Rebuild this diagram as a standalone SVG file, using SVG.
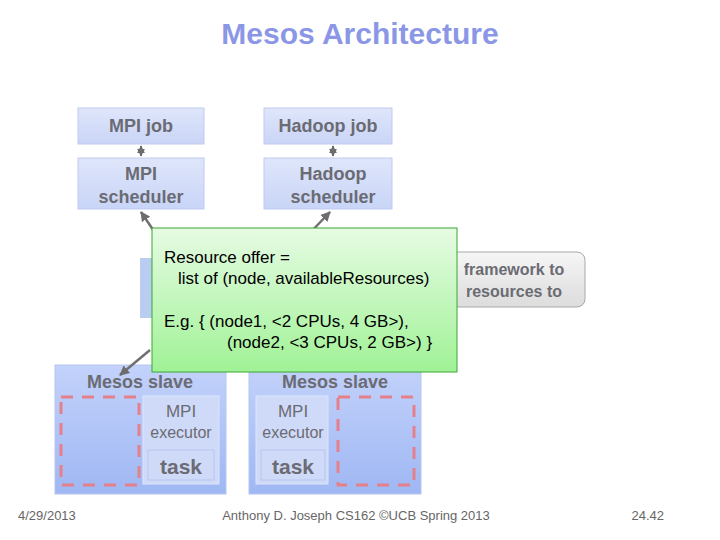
<svg xmlns="http://www.w3.org/2000/svg" width="720" height="540" viewBox="0 0 720 540">
<defs>
<linearGradient id="bl" x1="0" y1="0" x2="0" y2="1"><stop offset="0" stop-color="#dfe6fb"/><stop offset="1" stop-color="#c9d5f7"/></linearGradient>
<linearGradient id="sl" x1="0" y1="0" x2="0" y2="1"><stop offset="0" stop-color="#c3d2fb"/><stop offset="1" stop-color="#9fb7f3"/></linearGradient>
<linearGradient id="gr" x1="0" y1="0" x2="0" y2="1"><stop offset="0" stop-color="#e6fbe3"/><stop offset="1" stop-color="#a0f296"/></linearGradient>
<linearGradient id="gy" x1="0" y1="0" x2="0" y2="1"><stop offset="0" stop-color="#f6f6f6"/><stop offset="1" stop-color="#dcdcdc"/></linearGradient>
<marker id="ah" viewBox="0 0 10 10" refX="9" refY="5" markerWidth="4" markerHeight="4" orient="auto-start-reverse"><path d="M0,0L10,5L0,10z" fill="#6d6d6d"/></marker>
</defs>
<style>
.b{fill:url(#bl);stroke:#bfcbef;stroke-width:1}
.t{font-family:"Liberation Sans",Arial,sans-serif;fill:#6b6b73;font-weight:bold;text-anchor:middle}
.r{font-weight:normal}
.n{font-family:"Liberation Sans",Arial,sans-serif;fill:#000;font-size:17px}
.c{stroke:#707070;stroke-width:2.5;fill:none;marker-end:url(#ah)}
.dd{stroke:#707070;stroke-width:2;fill:none;marker-end:url(#ah);marker-start:url(#ah)}
.d{fill:none;stroke:#e5808a;stroke-width:3;stroke-dasharray:12,9}
</style>
<rect width="720" height="540" fill="#fff"/>
<text x="360" y="44" font-family="Liberation Sans,Arial,sans-serif" font-size="30" font-weight="bold" fill="#8b97e6" text-anchor="middle">Mesos Architecture</text>
<g id="mpijob"><rect class="b" x="78" y="108" width="126" height="36"/><text class="t" x="141" y="132" font-size="18">MPI job</text></g>
<g id="hadoopjob"><rect class="b" x="264" y="108" width="128" height="36"/><text class="t" x="328" y="132" font-size="18">Hadoop job</text></g>
<g id="mpisched"><rect class="b" x="78" y="158" width="126" height="51"/><text class="t" x="141" y="180" font-size="18">MPI</text><text class="t" x="141" y="203" font-size="18">scheduler</text></g>
<g id="hadoopsched"><rect class="b" x="264" y="158" width="128" height="51"/><text class="t" x="333" y="180" font-size="18">Hadoop</text><text class="t" x="333" y="203" font-size="18">scheduler</text></g>
<g id="master"><rect x="140" y="258" width="30" height="60" fill="#b8cdf0"/></g>
<g id="callout"><rect x="430" y="252" width="155" height="55" rx="8" fill="url(#gy)" stroke="#a8a8a8"/><text class="t" x="514" y="275" font-size="16">framework to</text><text class="t" x="514" y="297" font-size="16">resources to</text></g>
<g id="slave1"><rect x="55" y="365" width="171" height="129" fill="url(#sl)" stroke="#b6c6ef"/><text class="t" x="140" y="388" font-size="18">Mesos slave</text>
<rect class="d" x="61" y="397" width="78" height="88"/>
<rect x="143" y="396" width="76" height="88" fill="#cfdaf8" stroke="#dde5fb"/><text class="t r" x="181" y="417" font-size="17">MPI</text><text class="t r" x="181" y="438" font-size="16">executor</text>
<rect x="148" y="450" width="66" height="30" fill="#cfdaf8" stroke="#b8c6ee"/><text class="t" x="181" y="474" font-size="21">task</text></g>
<g id="slave2"><rect x="249" y="365" width="172" height="129" fill="url(#sl)" stroke="#b6c6ef"/><text class="t" x="335" y="388" font-size="18">Mesos slave</text>
<rect x="256" y="396" width="72" height="88" fill="#cfdaf8" stroke="#dde5fb"/><text class="t r" x="293" y="417" font-size="17">MPI</text><text class="t r" x="293" y="438" font-size="16">executor</text>
<rect x="261" y="450" width="64" height="30" fill="#cfdaf8" stroke="#b8c6ee"/><text class="t" x="293" y="474" font-size="21">task</text>
<rect class="d" x="338" y="397" width="76" height="88"/></g>
<g id="connectors">
<line class="dd" x1="141" y1="146" x2="141" y2="156"/>
<line class="dd" x1="333" y1="146" x2="333" y2="156"/>
<line class="c" x1="160" y1="240" x2="141" y2="212"/>
<line class="c" x1="305" y1="238" x2="330" y2="212"/>
<line class="c" x1="150" y1="350" x2="120" y2="375"/>
</g>
<g id="offer"><rect x="152" y="228" width="305" height="144" fill="url(#gr)" stroke="#3aa632"/>
<text class="n" x="164" y="263">Resource offer =</text>
<text class="n" x="178" y="284">list of (node, availableResources)</text>
<text class="n" x="164" y="327">E.g.  { (node1, &lt;2 CPUs, 4 GB&gt;),</text>
<text class="n" x="227" y="348">(node2, &lt;3 CPUs, 2 GB&gt;) }</text></g>
<g id="footer" font-family="Liberation Sans,Arial,sans-serif" font-size="13" fill="#666">
<text x="18" y="520">4/29/2013</text><text x="356" y="520" text-anchor="middle">Anthony D. Joseph CS162 ©UCB Spring 2013</text><text x="664" y="520" text-anchor="end">24.42</text></g>
</svg>
